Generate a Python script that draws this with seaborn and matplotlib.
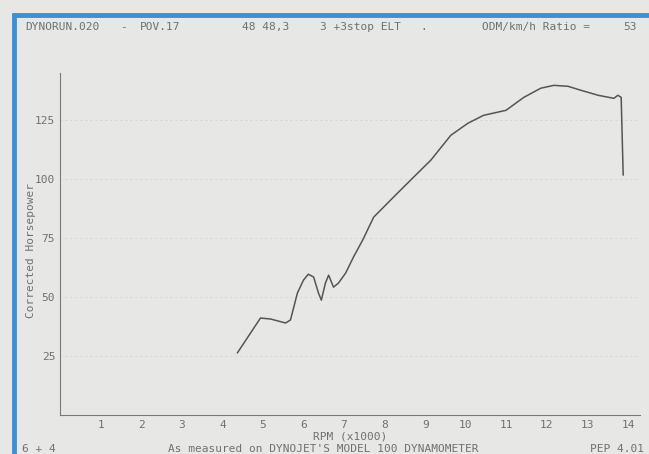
import numpy as np
import pandas as pd
import matplotlib
matplotlib.use("Agg")
import matplotlib.pyplot as plt
import seaborn as sns

# dyno run
rpm = [4.37, 4.94, 5.19, 5.56, 5.68, 5.85, 6.00, 6.12, 6.25, 6.37, 6.44, 6.54,
       6.62, 6.74, 6.86, 7.04, 7.23, 7.46, 7.73, 8.22, 8.64, 9.14, 9.63, 10.05,
       10.44, 10.99, 11.43, 11.85, 12.17, 12.52, 12.84, 13.26, 13.65, 13.75,
       13.83, 13.88]
hp = [26.3, 41.1, 40.7, 39.0, 40.3, 51.7, 57.2, 59.7, 58.5, 51.7, 48.7, 55.9,
      59.3, 54.2, 55.9, 60.2, 66.9, 74.2, 83.9, 92.4, 99.6, 108.1, 118.6, 123.7,
      127.1, 129.2, 134.7, 138.6, 139.8, 139.4, 137.7, 135.6, 134.3, 135.6,
      134.7, 101.7]
x_ticks = list(range(1, 15))
y_ticks = [25, 50, 75, 100, 125]

df = pd.DataFrame({"rpm": rpm, "hp": hp})

sns.set_style("white")
plt.rcParams["font.family"] = ["DejaVu Sans Mono"]
ink = "#707070"
fs = 8

fig = plt.figure(figsize=(6.49, 4.54), dpi=100, facecolor="#e7e7e5")
ax = fig.add_axes([0.0925, 0.086, 0.894, 0.753])
ax.set_facecolor("none")

sns.lineplot(data=df, x="rpm", y="hp", ax=ax, color="#555555", linewidth=1.1,
             sort=False, estimator=None)

ax.set_xlim(0, 14.3)
ax.set_ylim(0, 145)
ax.set_xticks(x_ticks)
ax.set_yticks(y_ticks)
ax.tick_params(colors=ink, labelsize=fs, length=2, width=0.6, pad=1.5)
for s in ["top", "right"]:
    ax.spines[s].set_visible(False)
for s in ["left", "bottom"]:
    ax.spines[s].set_color("#7a7a7a")
    ax.spines[s].set_linewidth(0.8)
ax.grid(axis="y", color="#d0d0d0", linestyle=(0, (2, 4)), linewidth=0.6)

ax.set_xlabel("RPM (x1000)", color=ink, fontsize=fs, labelpad=1)
ax.set_ylabel("Corrected Horsepower", color=ink, fontsize=fs)
ax.yaxis.set_label_coords(-0.042, 0.48)

# header / footer of the printout
hy = 1 - 27 / 454
for xp, t in [(25, "DYNORUN.020"), (120, "-"), (140, "POV.17"), (242, "48 48,3"),
              (320, "3 +3stop ELT"), (420, "."), (482, "ODM/km/h Ratio ="),
              (623, "53")]:
    fig.text(xp / 649, hy, t, color=ink, fontsize=fs, va="center")
fy = 1 - 449 / 454
fig.text(22 / 649, fy, "6 + 4", color=ink, fontsize=fs, va="center")
fig.text(168 / 649, fy, "As measured on DYNOJET'S MODEL 100 DYNAMOMETER",
         color=ink, fontsize=fs, va="center")
fig.text(590 / 649, fy, "PEP 4.01", color=ink, fontsize=fs, va="center")

# blue frame of the screen
blue = "#3f8fd2"
fig.add_artist(plt.Line2D([14 / 649, 14 / 649], [0, 1 - 13 / 454],
                          color=blue, linewidth=3.5, solid_capstyle="butt",
                          transform=fig.transFigure))
fig.add_artist(plt.Line2D([12 / 649, 1], [1 - 15 / 454, 1 - 15 / 454],
                          color=blue, linewidth=3.5, solid_capstyle="butt",
                          transform=fig.transFigure))

fig.savefig("out.png", dpi=100, facecolor=fig.get_facecolor())
